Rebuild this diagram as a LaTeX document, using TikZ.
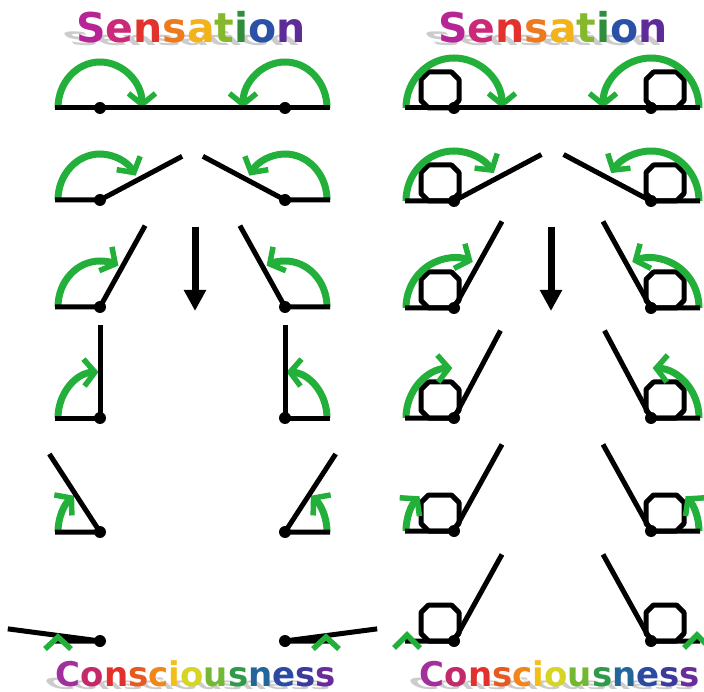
\documentclass[tikz,border=0pt]{standalone}
\usepackage{fontspec}
\newfontfamily\titlefont{DejaVu Sans}
\usetikzlibrary{arrows.meta,calc}

\definecolor{arcgreen}{HTML}{22B03A}
% letter colours of the two rainbow words
\definecolor{sA}{HTML}{B62496}\definecolor{sB}{HTML}{CC2A78}
\definecolor{sC}{HTML}{E2322E}\definecolor{sD}{HTML}{EE7A1E}
\definecolor{sE}{HTML}{F2B21A}\definecolor{sF}{HTML}{86B82C}
\definecolor{sG}{HTML}{2E8E3C}\definecolor{sH}{HTML}{2A50A8}
\definecolor{sI}{HTML}{5E2C98}
\definecolor{cA}{HTML}{A2309C}\definecolor{cB}{HTML}{C42A6A}
\definecolor{cC}{HTML}{E2302C}\definecolor{cD}{HTML}{E65A22}
\definecolor{cE}{HTML}{F0861C}\definecolor{cF}{HTML}{F4BE1A}
\definecolor{cG}{HTML}{D6D424}\definecolor{cH}{HTML}{72B832}
\definecolor{cI}{HTML}{309A4A}\definecolor{cJ}{HTML}{23679A}
\definecolor{cK}{HTML}{2C4AA2}\definecolor{cL}{HTML}{3C3A9C}
\definecolor{cM}{HTML}{6A2C9A}

\newcommand{\wordSensation}{\textcolor{sA}{S}\textcolor{sB}{e}\textcolor{sC}{n}%
\textcolor{sD}{s}\textcolor{sE}{a}\textcolor{sF}{t}\textcolor{sG}{i}%
\textcolor{sH}{o}\textcolor{sI}{n}}
\newcommand{\wordConsciousness}{\textcolor{cA}{C}\textcolor{cB}{o}\textcolor{cC}{n}%
\textcolor{cD}{s}\textcolor{cE}{c}\textcolor{cF}{i}\textcolor{cG}{o}%
\textcolor{cH}{u}\textcolor{cI}{s}\textcolor{cJ}{n}\textcolor{cK}{e}%
\textcolor{cL}{s}\textcolor{cM}{s}}

\begin{document}
\begin{tikzpicture}[x=1pt,y=-1pt,
  blk/.style={line width=5pt,black},
  arcline/.style={line width=7pt,arcgreen,
    -{Straight Barb[length=11pt,width=27pt,line width=5.5pt]}},
  chev/.style={line width=5.5pt,arcgreen},
  pivot/.style={circle,fill=black,inner sep=0pt,minimum size=12pt},
  octo/.style={line width=5pt,black,line join=round},
  downarrow/.style={line width=7pt,black,-{Triangle[length=21pt,width=21pt]}},
  bigword/.style={font=\titlefont\bfseries\fontsize{41}{41}\selectfont,inner sep=0pt,anchor=base},
  smallword/.style={font=\titlefont\bfseries\fontsize{34}{34}\selectfont,inner sep=0pt,anchor=base},
  shade/.style={text=black!20,xslant=-1,yscale=0.45,transform shape},
  octagon/.pic={\draw[octo] (-19,-10.5) -- (-11.5,-18) -- (11.5,-18) -- (19,-10.5)
     -- (19,10.5) -- (11.5,18) -- (-11.5,18) -- (-19,10.5) -- cycle;}
]
\useasboundingbox (0,0) rectangle (704,692);

% ---------- titles with their cast shadows ----------
\node[bigword,shade] at (187,46) {Sensation};
\node[bigword,shade] at (549,46) {Sensation};
\node[smallword,shade] at (192,689) {Consciousness};
\node[smallword,shade] at (556,689) {Consciousness};
\node[bigword] (sensL) at (191,43) {\wordSensation};
\node[bigword] (sensR) at (553,43) {\wordSensation};
\node[smallword] (consL) at (196,686) {\wordConsciousness};
\node[smallword] (consR) at (560,686) {\wordConsciousness};

% ---------- left panel: bare joints ----------
\foreach \y/\a/\e [count=\i] in {108/0/0,200/28/32,307/61/64,418/90/92,532/123/128,641/172.5/0}{
  \coordinate (LA\i) at (100,\y);
  \coordinate (LB\i) at (285,\y);
  \coordinate (LS\i) at (55,\y);
  \coordinate (LT\i) at (330,\y);
  \coordinate (LAe\i) at ($(LA\i)+(-\a:93)$);
  \coordinate (LBe\i) at ($(LB\i)+(180+\a:93)$);
  \ifnum\i<6
    \pgfmathsetmacro\ea{360-\e}
    \pgfmathsetmacro\eb{\e-180}
    \draw[arcline] ($(LA\i)+(-42,0)$) arc[start angle=180,end angle=\ea,x radius=42,y radius=46];
    \draw[arcline] ($(LB\i)+(42,0)$) arc[start angle=0,end angle=\eb,x radius=42,y radius=46];
  \fi
  \draw[blk] (LS\i) -- (LA\i) -- (LAe\i);
  \draw[blk] (LT\i) -- (LB\i) -- (LBe\i);
  \node[pivot] at (LA\i) {};
  \node[pivot] at (LB\i) {};
}
% last row: only the tips of the vanishing arcs remain
\draw[chev] (45,649) -- (58,637) -- (71,649);
\draw[chev] (313,649) -- (326,637) -- (339,649);

% ---------- right panel: joints holding a block ----------
\foreach \y/\a/\e [count=\i] in {108/0/0,201/28/34,308/61/67,418/62/92,531/61/136,641/61/0}{
  \coordinate (RA\i) at (454,\y);
  \coordinate (RB\i) at (651,\y);
  \coordinate (RS\i) at (405,\y);
  \coordinate (RT\i) at (700,\y);
  \coordinate (RAe\i) at ($(RA\i)+(-\a:99)$);
  \coordinate (RBe\i) at ($(RB\i)+(180+\a:99)$);
  \pic at ($(RA\i)+(-14,-18)$) {octagon};
  \pic at ($(RB\i)+(14,-18)$) {octagon};
  \ifnum\i<6
    \pgfmathsetmacro\ea{360-\e}
    \pgfmathsetmacro\eb{\e-180}
    \draw[arcline] ($(RA\i)+(-48,0)$) arc[start angle=180,end angle=\ea,x radius=48,y radius=50];
    \draw[arcline] ($(RB\i)+(48,0)$) arc[start angle=0,end angle=\eb,x radius=48,y radius=50];
  \fi
  \draw[blk] (RS\i) -- (RA\i) -- (RAe\i);
  \draw[blk] (RT\i) -- (RB\i) -- (RBe\i);
  \node[pivot] at (RA\i) {};
  \node[pivot] at (RB\i) {};
}
\draw[chev] (394,648) -- (407,635) -- (420,648);
\draw[chev] (684,648) -- (697,635) -- (710,648);

% ---------- direction of the sequence ----------
\coordinate (dl1) at (195,227);
\coordinate (dl2) at (195,311);
\coordinate (dr1) at (551,227);
\coordinate (dr2) at (551,311);
\draw[downarrow] (dl1) -- (dl2);
\draw[downarrow] (dr1) -- (dr2);
\end{tikzpicture}
\end{document}
